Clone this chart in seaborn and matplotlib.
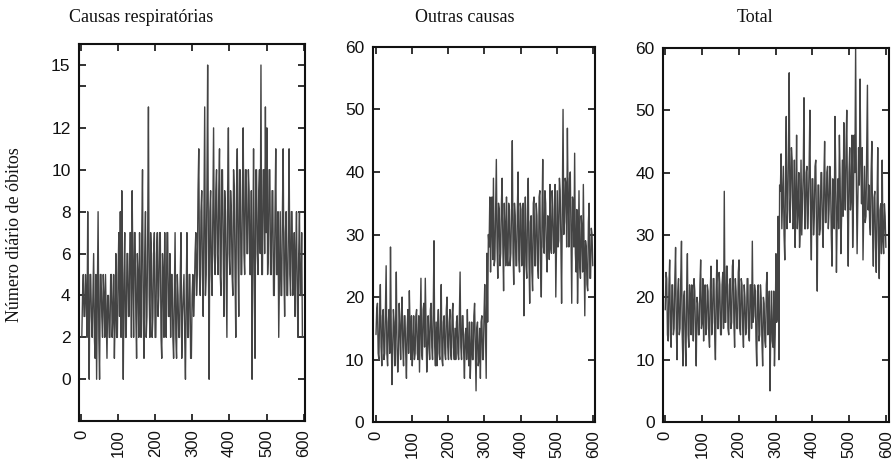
import numpy as np
import pandas as pd
import matplotlib
matplotlib.use("Agg")
import matplotlib.pyplot as plt
import seaborn as sns

# Day index (every 2nd day of the 600-day record)
days = list(range(1, 600, 2))

# Daily deaths, respiratory causes (20 values per 40 days)
resp = [
    2, 4, 5, 3, 3, 5, 4, 2, 8, 3, 0, 5, 5, 3, 2, 4, 6, 2, 1, 5,
    0, 4, 8, 2, 0, 5, 5, 3, 2, 5, 4, 2, 5, 3, 1, 4, 4, 2, 2, 5,
    5, 2, 3, 5, 1, 3, 6, 2, 2, 5, 7, 3, 8, 2, 9, 4, 0, 5, 7, 2,
    2, 6, 6, 3, 3, 7, 7, 2, 9, 5, 2, 7, 7, 3, 1, 6, 5, 2, 7, 4,
    2, 7, 10, 3, 1, 6, 8, 2, 3, 7, 13, 4, 2, 7, 6, 2, 3, 6, 7, 2,
    2, 6, 7, 3, 4, 7, 7, 2, 1, 6, 5, 2, 7, 3, 2, 7, 7, 3, 3, 6,
    2, 5, 5, 2, 1, 4, 7, 2, 1, 5, 4, 2, 2, 5, 7, 1, 3, 4, 5, 2,
    0, 4, 7, 2, 2, 5, 5, 1, 1, 4, 5, 3, 4, 6, 7, 4, 5, 9, 11, 5,
    4, 8, 9, 5, 3, 8, 13, 4, 5, 9, 15, 6, 0, 8, 9, 5, 4, 8, 12, 6,
    5, 9, 10, 6, 5, 9, 11, 5, 4, 10, 10, 6, 3, 9, 8, 5, 2, 9, 12, 6,
    5, 9, 8, 5, 4, 10, 9, 5, 2, 9, 11, 6, 3, 10, 10, 5, 5, 9, 12, 6,
    5, 10, 10, 6, 6, 10, 9, 5, 5, 9, 0, 6, 11, 5, 1, 10, 10, 6, 5, 9,
    10, 6, 15, 5, 5, 10, 10, 6, 13, 7, 12, 5, 6, 10, 10, 5, 5, 9, 9, 4,
    4, 8, 11, 5, 5, 8, 2, 5, 8, 4, 4, 8, 11, 5, 3, 7, 8, 4, 4, 7,
    11, 5, 4, 8, 8, 4, 5, 7, 3, 6, 8, 4, 2, 6, 8, 4, 4, 7, 2, 2,
]

# Daily deaths, other causes
outras = [
    14, 18, 19, 11, 10, 17, 22, 12, 9, 17, 18, 10, 11, 18, 25, 11, 9, 16, 18, 11,
    28, 15, 6, 11, 18, 16, 9, 15, 24, 12, 8, 11, 19, 15, 10, 17, 20, 12, 9, 17,
    17, 11, 7, 15, 18, 11, 21, 15, 10, 17, 9, 12, 17, 10, 11, 17, 18, 11, 10, 17,
    8, 16, 23, 11, 10, 18, 19, 12, 23, 16, 8, 11, 17, 13, 10, 18, 19, 12, 10, 18,
    29, 12, 9, 16, 9, 15, 18, 11, 10, 17, 22, 10, 9, 16, 17, 11, 10, 18, 20, 12,
    10, 16, 18, 11, 10, 17, 19, 12, 10, 15, 10, 16, 17, 11, 10, 17, 24, 12, 10, 17,
    17, 11, 7, 14, 15, 10, 18, 12, 9, 16, 7, 11, 16, 10, 10, 17, 19, 12, 5, 15,
    16, 9, 10, 15, 7, 16, 17, 10, 10, 17, 22, 15, 7, 27, 16, 30, 28, 36, 24, 32,
    36, 26, 39, 25, 26, 34, 42, 28, 23, 35, 34, 25, 27, 35, 39, 28, 21, 35, 31, 25,
    36, 26, 25, 35, 34, 25, 27, 34, 45, 27, 22, 35, 33, 25, 25, 34, 40, 26, 24, 35,
    34, 25, 27, 35, 17, 29, 36, 25, 23, 34, 39, 26, 19, 32, 33, 24, 21, 35, 36, 25,
    25, 35, 33, 25, 23, 36, 37, 26, 20, 33, 42, 28, 27, 37, 35, 27, 24, 33, 32, 26,
    38, 28, 27, 37, 34, 27, 28, 38, 20, 29, 37, 28, 29, 39, 37, 29, 19, 35, 50, 30,
    32, 39, 38, 28, 47, 35, 28, 39, 40, 29, 19, 36, 35, 28, 43, 27, 24, 34, 19, 26,
    37, 25, 23, 33, 31, 24, 38, 27, 17, 29, 28, 22, 21, 32, 35, 23, 23, 31, 30, 25,
]

# Daily deaths, total
total = [
    18, 24, 23, 14, 13, 22, 26, 14, 12, 22, 22, 14, 15, 23, 28, 15, 10, 21, 23, 14,
    15, 23, 29, 14, 9, 20, 21, 13, 9, 21, 27, 14, 12, 22, 20, 14, 22, 19, 13, 23,
    21, 14, 9, 20, 19, 14, 14, 22, 26, 15, 16, 23, 13, 20, 22, 14, 15, 22, 21, 14,
    12, 21, 25, 14, 16, 23, 23, 14, 10, 21, 26, 15, 15, 24, 22, 14, 14, 22, 24, 15,
    37, 16, 16, 25, 25, 15, 14, 22, 23, 15, 16, 25, 26, 16, 12, 23, 21, 15, 15, 24,
    26, 15, 14, 23, 22, 15, 12, 22, 20, 14, 15, 23, 23, 14, 13, 22, 22, 15, 29, 16,
    17, 22, 21, 13, 9, 21, 22, 13, 14, 22, 20, 13, 9, 20, 19, 13, 12, 22, 24, 14,
    16, 21, 5, 15, 21, 13, 12, 21, 9, 14, 27, 16, 17, 33, 10, 38, 37, 43, 31, 36,
    41, 30, 26, 40, 49, 31, 34, 43, 56, 32, 36, 44, 42, 31, 32, 42, 28, 35, 46, 31,
    34, 40, 28, 31, 42, 30, 35, 40, 52, 31, 31, 40, 41, 31, 35, 41, 50, 32, 26, 39,
    39, 30, 33, 41, 42, 30, 21, 38, 38, 30, 31, 40, 40, 31, 28, 39, 45, 32, 32, 40,
    41, 31, 34, 41, 39, 30, 25, 39, 37, 31, 49, 40, 24, 33, 39, 31, 46, 39, 27, 33,
    42, 33, 48, 38, 34, 44, 50, 34, 25, 40, 44, 34, 36, 46, 28, 35, 46, 40, 60, 38,
    27, 35, 44, 38, 55, 42, 35, 44, 26, 33, 41, 32, 33, 43, 54, 34, 38, 32, 30, 40,
    45, 31, 25, 36, 37, 28, 24, 35, 44, 29, 23, 34, 35, 27, 42, 29, 27, 35, 33, 28,
]

titles = ["Causas respiratórias", "Outras causas", "Total"]
ylabel = "Número diário de óbitos"
xticks = [0, 100, 200, 300, 400, 500, 600]
yticks_list = [[0, 2, 4, 6, 8, 10, 12, 15],
               [0, 10, 20, 30, 40, 50, 60],
               [0, 10, 20, 30, 40, 50, 60]]
ylims = [(-2, 16), (0, 60), (0, 60)]
xlims = [(-7, 603), (-8, 605), (-5, 607)]

sns.set_theme(style="ticks")
plt.rcParams["font.family"] = ["Liberation Sans", "DejaVu Sans"]
plt.rcParams["xtick.direction"] = "in"
plt.rcParams["ytick.direction"] = "in"

fig = plt.figure(figsize=(8.96, 4.69), dpi=100)
boxes = [(0.088, 0.102, 0.252, 0.804),
         (0.416, 0.100, 0.248, 0.800),
         (0.740, 0.100, 0.252, 0.798)]
title_x = [0.157, 0.519, 0.843]

series = [resp, outras, total]
for i in range(3):
    ax = fig.add_axes(boxes[i])
    df = pd.DataFrame({"dia": days, "obitos": series[i]})
    sns.lineplot(data=df, x="dia", y="obitos", ax=ax, color="#444444",
                 linewidth=1.0, estimator=None)
    ax.set_xlim(*xlims[i])
    ax.set_ylim(*ylims[i])
    ax.set_xticks(xticks)
    ax.set_xticklabels([str(t) for t in xticks], rotation=90, fontsize=12)
    ax.set_yticks(yticks_list[i])
    ax.set_yticklabels([str(t) for t in yticks_list[i]], fontsize=12.5)
    if i == 0:
        ax.set_yticks([14], minor=True)
    ax.set_xlabel("")
    ax.set_ylabel("")
    ax.tick_params(axis="both", which="both", top=True, right=True,
                   length=5, width=1.2, color="#111", labelcolor="#111", pad=6)
    for s in ax.spines.values():
        s.set_linewidth(1.5)
        s.set_color("#111")
    fig.text(title_x[i], 0.962, titles[i], ha="center", va="center",
             fontsize=13, family="Liberation Serif", color="#111")

fig.text(0.016, 0.50, ylabel, rotation=90, ha="center", va="center",
         fontsize=13, family="Liberation Serif", color="#111")

fig.savefig("out.png", dpi=100)
